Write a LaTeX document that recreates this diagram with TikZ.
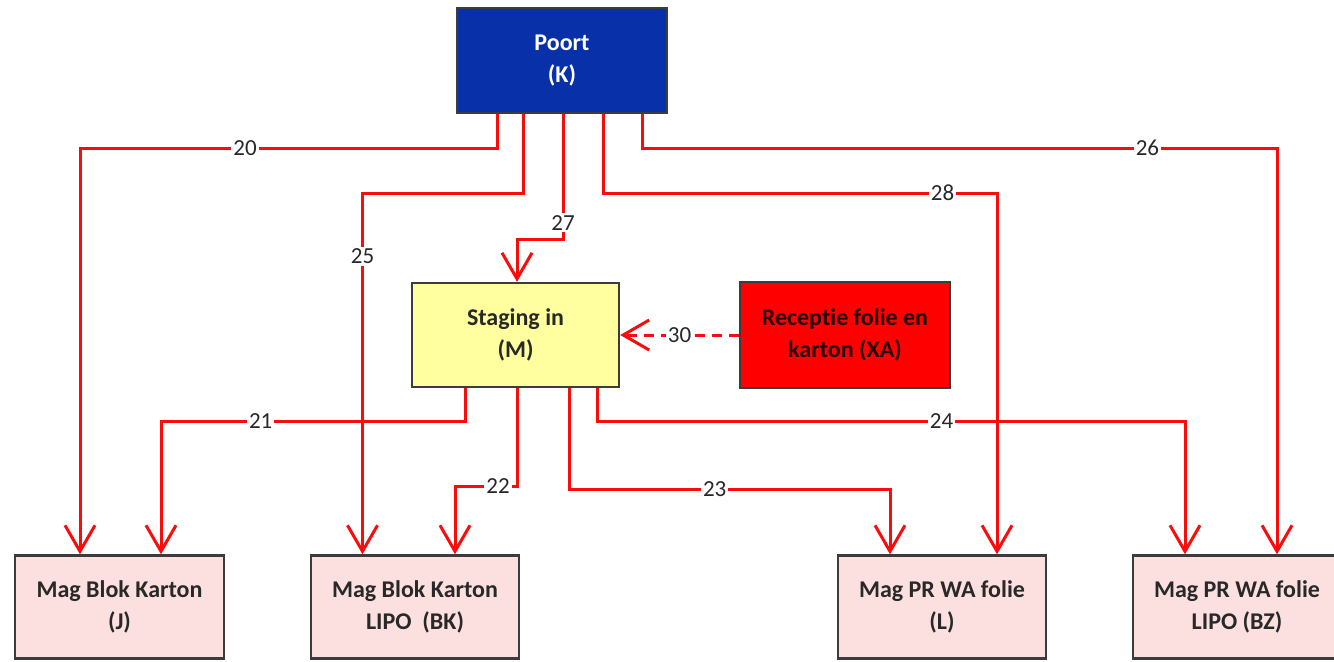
\documentclass[tikz,border=0pt]{standalone}
\usepackage{fontspec}
\setmainfont{Carlito}[Ligatures={NoCommon}]
\usetikzlibrary{arrows.meta,calc}
\definecolor{poortblue}{RGB}{8,48,168}
\definecolor{stagyellow}{RGB}{255,255,160}
\definecolor{magpink}{RGB}{252,224,224}
\definecolor{flowred}{RGB}{250,12,12}
\definecolor{txtgray}{RGB}{40,40,40}
\definecolor{bordergray}{RGB}{60,60,60}
\begin{document}
\begin{tikzpicture}[x=0.5pt,y=-0.5pt,
  box/.style={draw=bordergray, line width=1.2pt, align=center, inner sep=0pt,
    font=\bfseries\fontsize{12}{16}\selectfont, text=txtgray},
  flow/.style={draw=flowred, line width=1.5pt,
    -{Straight Barb[length=13pt,width=15pt,line width=1.5pt]}},
  dflow/.style={flow, dash pattern=on 5pt off 3.5pt},
  lab/.style={fill=white, inner sep=1pt, text=txtgray,
    font=\fontsize{11.5}{13}\selectfont}]
\clip (0,0) rectangle (1334,661);
\fill[white] (0,0) rectangle (1334,661);
% nodes
\node[box, fill=poortblue, text=white, minimum width=105pt, minimum height=52.5pt] (K) at (562,60.5) {Poort\\(K)};
\node[box, fill=stagyellow, minimum width=103.5pt, minimum height=52pt] (M) at (515.5,335) {Staging in\\(M)};
\node[box, fill=red, text=black!85!red, minimum width=105pt, minimum height=53pt] (XA) at (845,335) {Receptie folie en\\karton (XA)};
\node[box, fill=magpink, minimum width=104.5pt, minimum height=51.5pt] (J) at (119.5,607) {Mag Blok Karton\\(J)};
\node[box, fill=magpink, minimum width=104pt, minimum height=51.5pt] (BK) at (415,607) {Mag Blok Karton\\LIPO~ (BK)};
\node[box, fill=magpink, minimum width=104pt, minimum height=51.5pt] (L) at (942,607) {Mag PR WA folie\\(L)};
\node[box, fill=magpink, minimum width=104pt, minimum height=51.5pt] (BZ) at (1237,607) {Mag PR WA folie\\LIPO (BZ)};
% connectors from Poort
\draw[flow] ($(K.south)+(-65,0)$) -- ++(0,34) -| node[lab,pos=0.302]{20} ($(J.north)+(-39.5,0)$);
\draw[flow] ($(K.south)+(-39,0)$) -- ++(0,79) -| node[lab,pos=0.587]{25} ($(BK.north)+(-52.5,0)$);
\draw[flow] ($(K.south)+(1,0)$) -- node[lab,pos=0.87]{27} ++(0,125) -| ($(M.north)+(1.5,0)$);
\draw[flow] ($(K.south)+(41,0)$) -- ++(0,79) -| node[lab,pos=0.431]{28} ($(L.north)+(55,0)$);
\draw[flow] ($(K.south)+(80,0)$) -- ++(0,34) -| node[lab,pos=0.398]{26} ($(BZ.north)+(40,0)$);
% connectors from Staging
\draw[flow] ($(M.south)+(-50.5,0)$) -- ++(0,33) -| node[lab,pos=0.336]{21} ($(J.north)+(41.5,0)$);
\draw[flow] ($(M.south)+(2,0)$) -- ++(0,98) -| node[lab,pos=0.156]{22} ($(BK.north)+(40,0)$);
\draw[flow] ($(M.south)+(53.5,0)$) -- ++(0,101) -| node[lab,pos=0.227]{23} ($(L.north)+(-52,0)$);
\draw[flow] ($(M.south)+(81.5,0)$) -- ++(0,33) -| node[lab,pos=0.293]{24} ($(BZ.north)+(-52,0)$);
% dashed from Receptie
\draw[dflow] (XA.west) -- node[lab,pos=0.5]{30} (M.east);
\end{tikzpicture}
\end{document}
